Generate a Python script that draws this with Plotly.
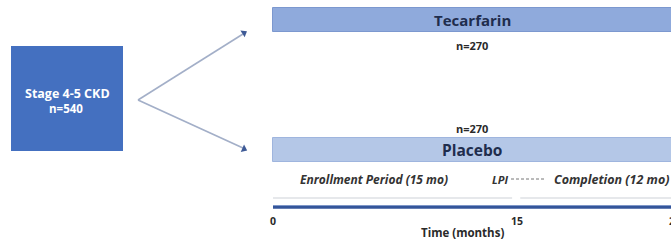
import plotly.graph_objects as go

# ---- data ----
arms = ["Tecarfarin", "Placebo"]
arm_n = [270, 270]
population = "Stage 4-5 CKD"
population_n = 540
periods = ["Enrollment Period (15 mo)", "Completion (12 mo)"]
period_start = [0, 15]
period_months = [15, 12]
tick_values = [0, 15, 27]
tick_labels = ["0", "15", "27"]
milestone = "LPI"
axis_title = "Time (months)"

# ---- layout helpers (positions / styles) ----
W, H = 671, 240
PX0, PX15 = 273, 517                      # pixel positions of month 0 and 15
ppm = (PX15 - PX0) / 15.0
t_range = [-PX0 / ppm, (W - PX0) / ppm]
total = period_start[-1] + period_months[-1]
t_vis_mid = (0 + t_range[1]) / 2
arm_y = [20, 150]
arm_colors = ["#8FAADC", "#B4C7E7"]
arm_line = ["#7C98CF", "#9FB5DE"]
arm_font = [15, 15.5]
n_y = [45, 128]
FONT = "'Open Sans', Lato, sans-serif"
dark = "#1F2D4D"
txt = "#2A2A2A"

fig = go.Figure()

# arm bars along the time axis
for a, y, c, lc in zip(arms, arm_y, arm_colors, arm_line):
    fig.add_trace(go.Bar(orientation="h", y=[y], x=[total], base=[0], width=24,
                         marker=dict(color=c, line=dict(color=lc, width=1)),
                         hoverinfo="skip", showlegend=False))

# thin period lines
gaps = [(0, period_months[0] - 0.3), (period_start[1] + 0.2, total)]
for (a, b) in gaps:
    fig.add_trace(go.Scatter(x=[a, b], y=[198, 198], mode="lines",
                             line=dict(color="#CDD1D8", width=1.2),
                             hoverinfo="skip", showlegend=False))

# thick time axis line
fig.add_trace(go.Scatter(x=[0, total], y=[207, 207], mode="lines",
                         line=dict(color="#34559A", width=3.5),
                         hoverinfo="skip", showlegend=False))
fig.add_trace(go.Scatter(x=[0, total], y=[205.5, 205.5], mode="lines",
                         line=dict(color="#7E97C8", width=1),
                         hoverinfo="skip", showlegend=False))

# dashed connector LPI -> Completion
fig.add_trace(go.Scatter(x=[(511 - PX0) / ppm, (546 - PX0) / ppm], y=[179, 179], mode="lines",
                         line=dict(color="#777777", width=1, dash="3px,2px"),
                         hoverinfo="skip", showlegend=False))

# left diagram on a pixel overlay axis
fig.add_trace(go.Scatter(x=[138, 243], y=[100, 34], mode="lines", xaxis="x2",
                         line=dict(color="#A3AFC8", width=1.6),
                         hoverinfo="skip", showlegend=False))
fig.add_trace(go.Scatter(x=[138, 243], y=[100, 148], mode="lines", xaxis="x2",
                         line=dict(color="#A3AFC8", width=1.6),
                         hoverinfo="skip", showlegend=False))
fig.add_trace(go.Scatter(x=[244, 244], y=[33, 149], mode="markers", xaxis="x2",
                         marker=dict(symbol="triangle-up", size=7, color="#3E5A96",
                                     angle=[58, 114]),
                         hoverinfo="skip", showlegend=False))

shapes = [dict(type="rect", xref="x2", yref="y", x0=11, x1=123, y0=46, y1=151,
               fillcolor="#4470C0", line=dict(width=0), layer="below")]

ann = []
ann.append(dict(x=67, y=93, xref="x2", yref="y", text=f"<b>{population}</b>",
                showarrow=False, font=dict(family=FONT, size=12.5, color="white")))
ann.append(dict(x=66, y=108, xref="x2", yref="y", text=f"<b>n={population_n}</b>",
                showarrow=False, font=dict(family=FONT, size=11.5, color="white")))

for a, n, y, ny, fs in zip(arms, arm_n, arm_y, n_y, arm_font):
    ann.append(dict(x=t_vis_mid, y=y, xref="x", yref="y", text=f"<b>{a}</b>",
                    showarrow=False, font=dict(family=FONT, size=fs, color=dark)))
    ann.append(dict(x=t_vis_mid, y=ny, xref="x", yref="y", text=f"<b>n={n}</b>",
                    showarrow=False, font=dict(family=FONT, size=11, color=txt)))

ann.append(dict(x=(374 - PX0) / ppm, y=179, xref="x", yref="y", text=f"<b><i>{periods[0]}</i></b>",
                showarrow=False, font=dict(family=FONT, size=12, color="#333333")))
ann.append(dict(x=(510 - PX0) / ppm, y=179, xref="x", yref="y", text=f"<b><i>{milestone}</i></b>",
                xanchor="right", showarrow=False, font=dict(family=FONT, size=11, color="#333333")))
ann.append(dict(x=1, y=179, xref="paper", yref="y", text=f"<b><i>{periods[1]}</i></b>",
                xanchor="right", showarrow=False, font=dict(family=FONT, size=12.5, color="#333333")))

for v, lab in zip(tick_values, tick_labels):
    if v <= t_range[1]:
        ann.append(dict(x=v, y=221, xref="x", yref="y", text=f"<b>{lab}</b>",
                        showarrow=False, font=dict(family=FONT, size=10.5, color=txt)))
    else:
        ann.append(dict(x=1, y=221, xref="paper", yref="y", text=f"<b>{lab}</b>",
                        xanchor="left", xshift=-4, showarrow=False,
                        font=dict(family=FONT, size=10.5, color=txt)))

ann.append(dict(x=462, y=232, xref="x2", yref="y", text=f"<b>{axis_title}</b>",
                showarrow=False, font=dict(family=FONT, size=11.5, color=txt)))

fig.update_layout(
    width=W, height=H, margin=dict(l=0, r=0, t=0, b=0),
    paper_bgcolor="white", plot_bgcolor="white",
    xaxis=dict(range=t_range, visible=False, fixedrange=True),
    xaxis2=dict(range=[0, W], visible=False, overlaying="x", fixedrange=True),
    yaxis=dict(range=[H, 0], visible=False, fixedrange=True),
    shapes=shapes, annotations=ann, bargap=0,
)

fig.write_html("out.html", post_script="document.body.style.margin='0';",
               config={"displayModeBar": False})
